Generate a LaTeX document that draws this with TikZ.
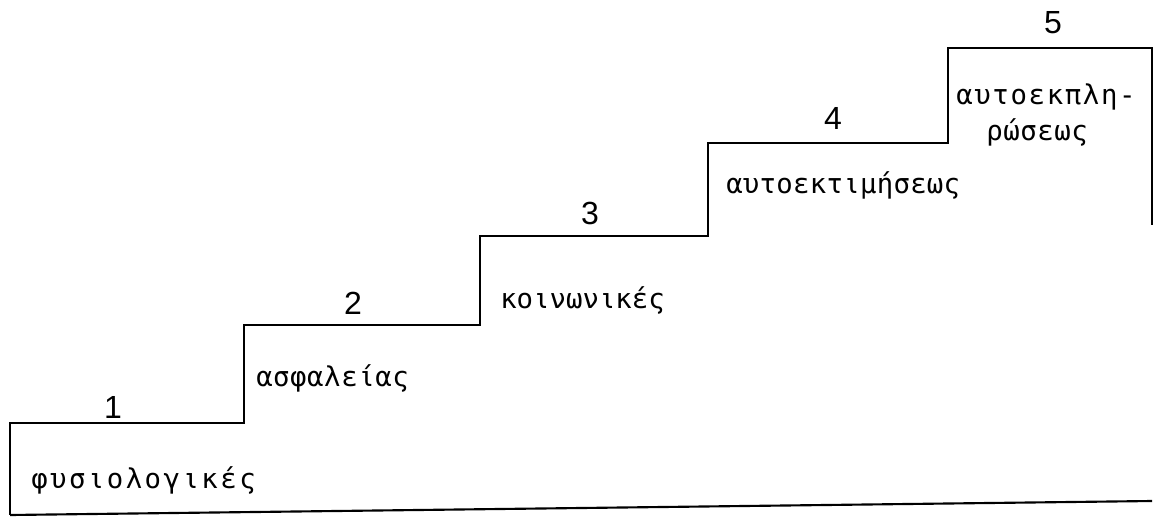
\documentclass[tikz,border=0pt]{standalone}
\usepackage{fontspec}
\newfontfamily\grk{DejaVu Sans Mono}
\newfontfamily\dig{Liberation Sans}
\begin{document}
\begin{tikzpicture}[x=0.75pt,y=-0.75pt,
  stair/.style={line width=1.6pt, line join=miter},
  lbl/.style={anchor=base west, inner sep=0pt, font=\grk\fontsize{20.5pt}{25pt}\selectfont},
  num/.style={anchor=base, inner sep=0pt, font=\dig\fontsize{24pt}{28pt}\selectfont}]
\useasboundingbox (0,0) rectangle (1155,517);
% staircase corners
\coordinate (b0) at (10,515);
\coordinate (b1) at (1152,501);
\coordinate (s1l) at (10,423);
\coordinate (s1r) at (244,423);
\coordinate (s2l) at (244,325);
\coordinate (s2r) at (480,325);
\coordinate (s3l) at (480,236);
\coordinate (s3r) at (708,236);
\coordinate (s4l) at (708,143);
\coordinate (s4r) at (948,143);
\coordinate (s5l) at (948,48);
\coordinate (s5r) at (1152,48);
\coordinate (rEnd) at (1152,225);
\draw[stair] (b0) -- (s1l) -- (s1r) -- (s2l) -- (s2r) -- (s3l) -- (s3r) -- (s4l) -- (s4r) -- (s5l) -- (s5r) -- (rEnd);
\draw[stair] (b0) -- (b1);
% step numbers
\node[num] (n1) at (113,418) {1};
\node[num] (n2) at (353,314) {2};
\node[num] (n3) at (590,224) {3};
\node[num] (n4) at (833,129) {4};
\node[num] (n5) at (1053,34) {5};
% labels
\node[lbl] (l1) at (31,488) {\addfontfeatures{LetterSpace=9}φυσιολογικές};
\node[lbl] (l2) at (256,386) {\addfontfeatures{LetterSpace=2}ασφαλείας};
\node[lbl] (l3) at (500,308) {κοινωνικές};
\node[lbl] (l4) at (726,193) {\addfontfeatures{LetterSpace=1}αυτοεκτιμήσεως};
\node[lbl] (l5a) at (956,104) {\addfontfeatures{LetterSpace=6}αυτοεκπλη-};
\node[lbl] (l5b) at (986,140) {\addfontfeatures{LetterSpace=2}ρώσεως};
\end{tikzpicture}
\end{document}
